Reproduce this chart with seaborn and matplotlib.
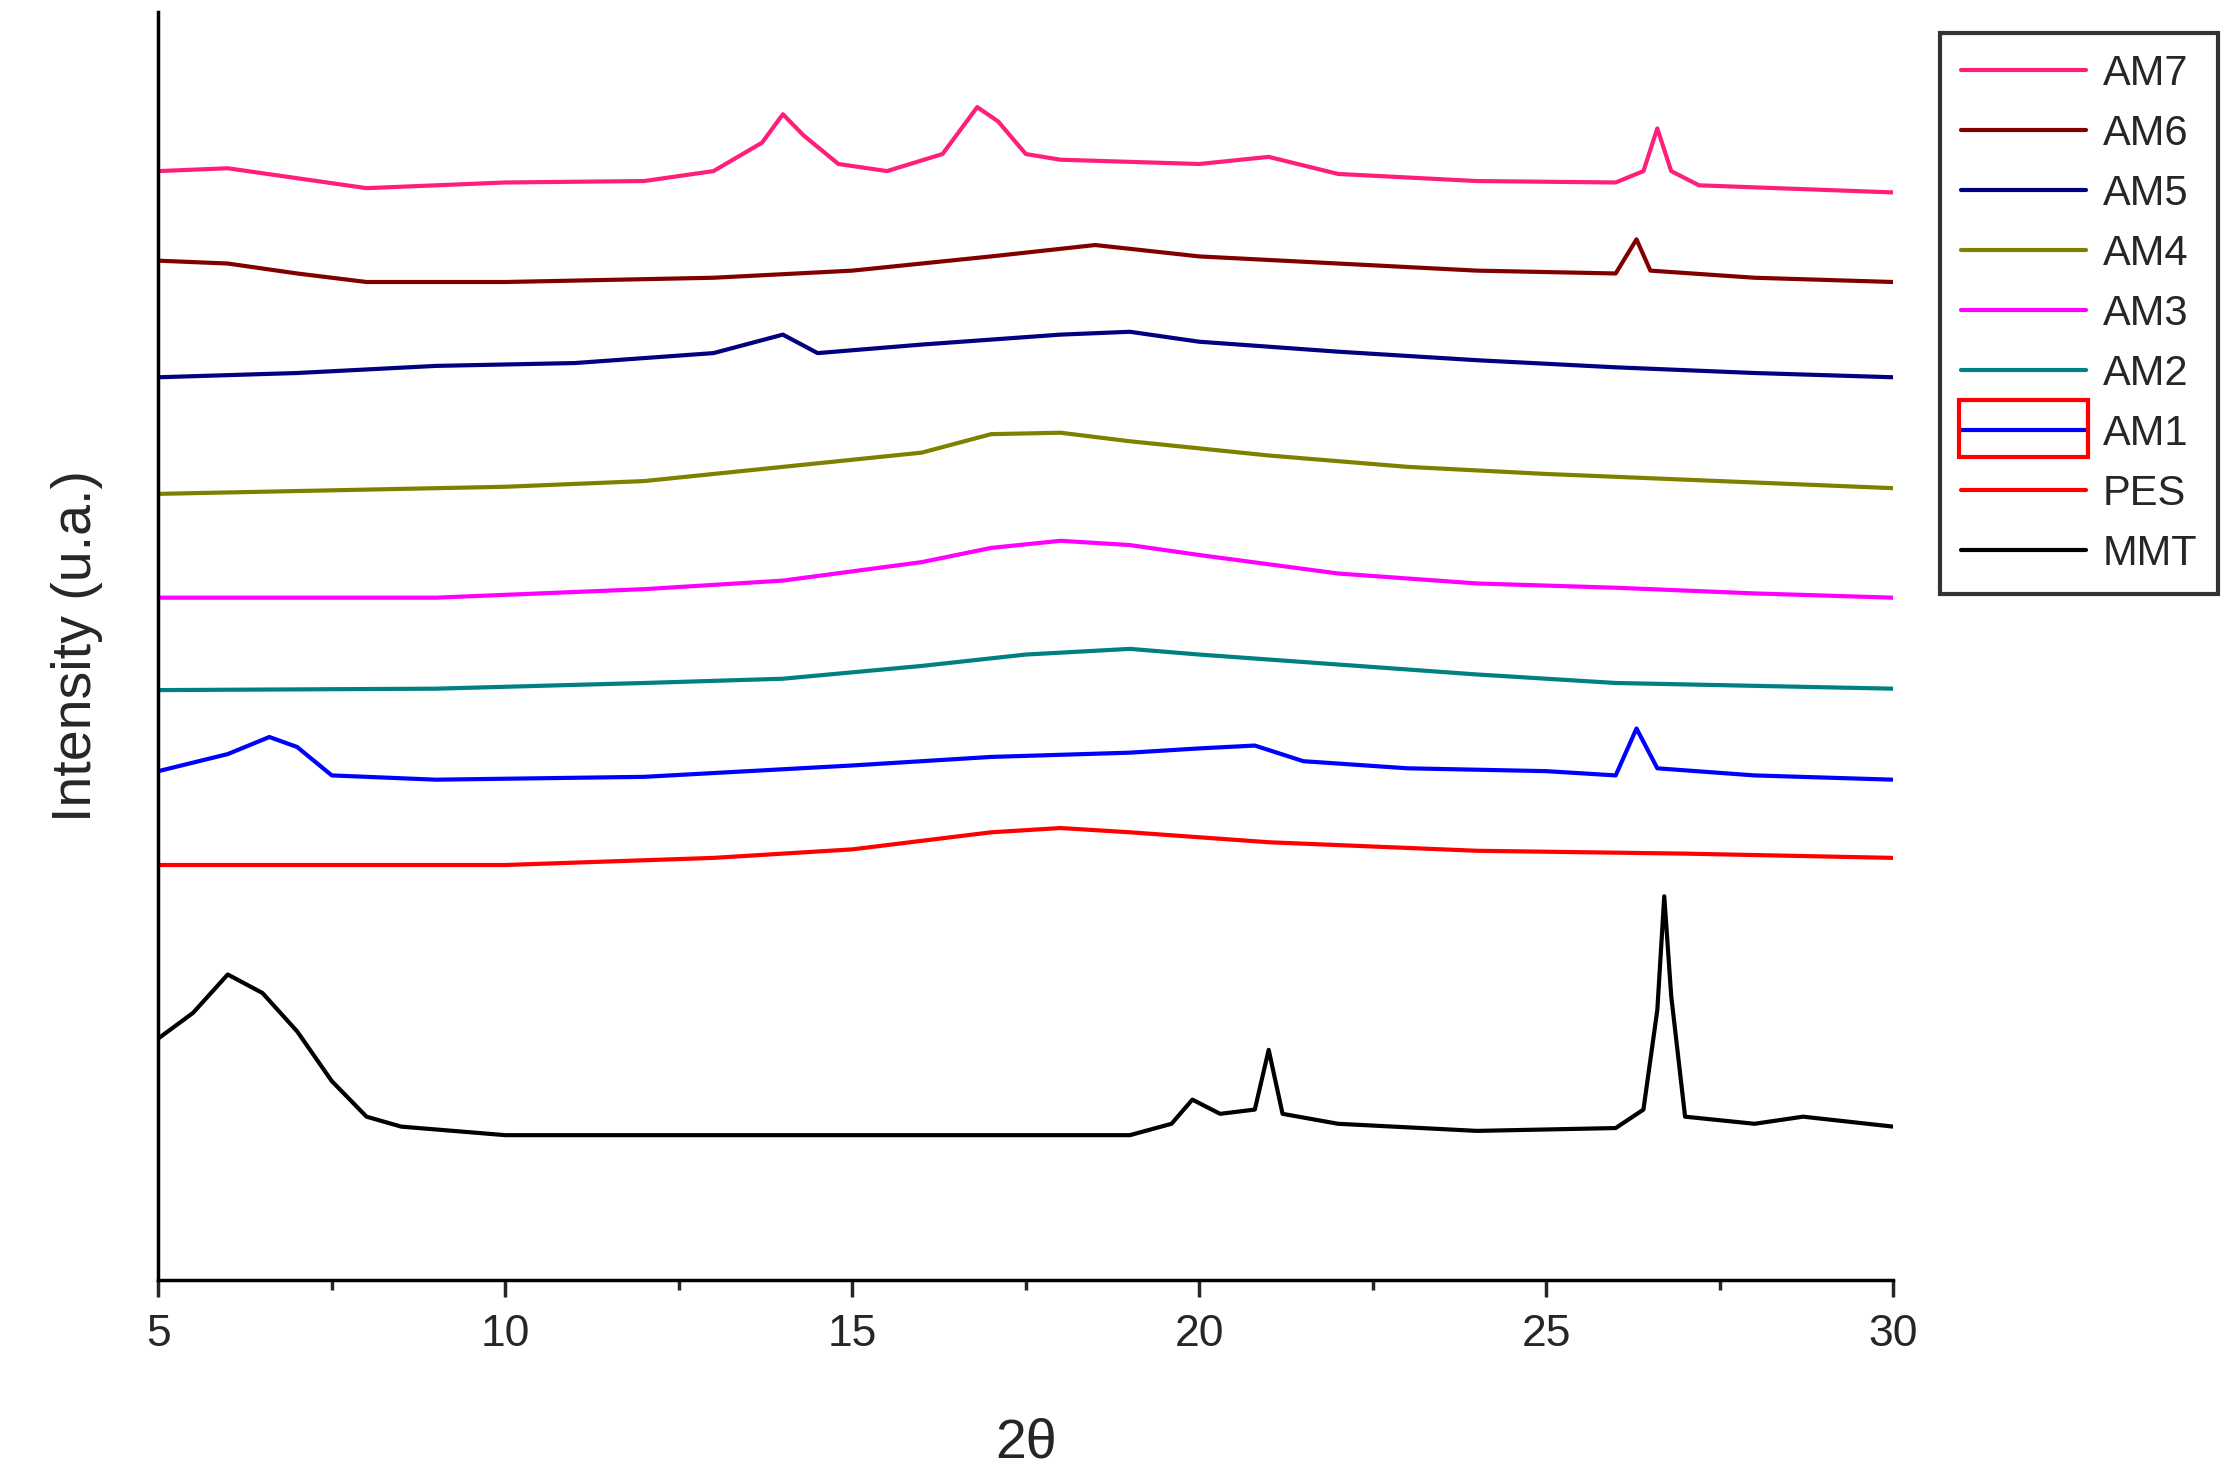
import matplotlib
matplotlib.use("Agg")
import matplotlib.pyplot as plt
import seaborn as sns
import pandas as pd
from matplotlib.patches import Rectangle
from matplotlib.ticker import MultipleLocator

# knots: (2theta, screen row in the original); intensity = 900 - row
am7 = [(5,120),(6,118),(7,125),(8,132),(10,128),(12,127),(13,120),(13.7,100),(14,80),(14.3,95),(14.8,115),(15.5,120),(16.3,108),(16.8,75),(17.1,85),(17.5,108),(18,112),(20,115),(21,110),(22,122),(24,127),(26,128),(26.4,120),(26.6,90),(26.8,120),(27.2,130),(30,135)]
am6 = [(5,183),(6,185),(7,192),(8,198),(10,198),(13,195),(15,190),(17,180),(18.5,172),(20,180),(22,185),(24,190),(26,192),(26.3,168),(26.5,190),(28,195),(30,198)]
am5 = [(5,265),(7,262),(9,257),(11,255),(13,248),(14,235),(14.5,248),(16,242),(18,235),(19,233),(20,240),(22,247),(24,253),(26,258),(28,262),(30,265)]
am4 = [(5,347),(8,344),(10,342),(12,338),(14,328),(16,318),(17,305),(18,304),(19,310),(21,320),(23,328),(25,333),(27,337),(30,343)]
am3 = [(5,420),(9,420),(12,414),(14,408),(16,395),(17,385),(18,380),(19,383),(20,390),(22,403),(24,410),(26,413),(28,417),(30,420)]
am2 = [(5,485),(9,484),(12,480),(14,477),(16,468),(17.5,460),(19,456),(20,460),(22,467),(24,474),(26,480),(30,484)]
am1 = [(5,542),(6,530),(6.6,518),(7,525),(7.5,545),(9,548),(12,546),(15,538),(17,532),(19,529),(20,526),(20.8,524),(21.5,535),(23,540),(25,542),(26,545),(26.3,512),(26.6,540),(28,545),(30,548)]
pes = [(5,608),(10,608),(13,603),(15,597),(17,585),(18,582),(19,585),(21,592),(24,598),(27,600),(30,603)]
mmt = [(5,730),(5.5,712),(6,685),(6.5,698),(7,725),(7.5,760),(8,785),(8.5,792),(10,798),(15,798),(19,798),(19.6,790),(19.9,773),(20.3,783),(20.8,780),(21,738),(21.2,783),(22,790),(24,795),(26,793),(26.4,780),(26.6,710),(26.7,630),(26.8,700),(27,785),(28,790),(28.7,785),(30,792)]

names = ["AM7", "AM6", "AM5", "AM4", "AM3", "AM2", "AM1", "PES", "MMT"]
series = [am7, am6, am5, am4, am3, am2, am1, pes, mmt]
colors = ["#ff1f7a", "#800000", "#000080", "#808000", "#ff00ff", "#008080", "#0000ff", "#ff0000", "#000000"]

rows = []
for n, s in zip(names, series):
    for x, r in s:
        rows.append({"two_theta": x, "intensity": 900 - r, "sample": n})
df = pd.DataFrame(rows)

sns.set_style("ticks")
plt.rcParams["font.family"] = ["Liberation Sans", "DejaVu Sans"]

fig = plt.figure(figsize=(22.3, 14.8), dpi=100)
ax = fig.add_axes([0.071, 0.135, 0.778, 0.857])
sns.lineplot(data=df, x="two_theta", y="intensity", hue="sample", hue_order=names,
             palette=colors, sort=False, estimator=None, linewidth=3, ax=ax)

ax.set_xlim(5, 30)
ax.set_ylim(0, 892)
ax.set_yticks([])
ax.xaxis.set_major_locator(MultipleLocator(5))
ax.xaxis.set_minor_locator(MultipleLocator(2.5))
ax.tick_params(axis="x", which="major", length=12, width=2.5, labelsize=32, pad=12, direction="out")
ax.tick_params(axis="x", which="minor", length=7, width=2.5, direction="out")
for sp in ["top", "right"]:
    ax.spines[sp].set_visible(False)
for sp in ["left", "bottom"]:
    ax.spines[sp].set_linewidth(2.5)
    ax.spines[sp].set_color("black")
ax.set_xlabel("2θ", fontsize=40, labelpad=45)
ax.set_ylabel("Intensity (u.a.)", fontsize=40, labelpad=40)

leg = ax.legend(loc="upper left", bbox_to_anchor=(1.015, 1.0), fontsize=30,
                frameon=True, fancybox=False, edgecolor="black", handlelength=3.0,
                handletextpad=0.4, labelspacing=0.48, borderpad=0.5)
leg.get_frame().set_linewidth(3)
for h in leg.get_lines():
    h.set_linewidth(3)

fig.canvas.draw()
# red box around the AM1 legend handle
bb = leg.get_lines()[6].get_window_extent().transformed(fig.transFigure.inverted())
fig.patches.append(Rectangle((bb.x0 - 0.001, bb.y0 - 0.018), bb.width + 0.002, 0.038,
                             transform=fig.transFigure, fill=False, edgecolor="red", linewidth=3))

fig.savefig("out.png", dpi=100)
